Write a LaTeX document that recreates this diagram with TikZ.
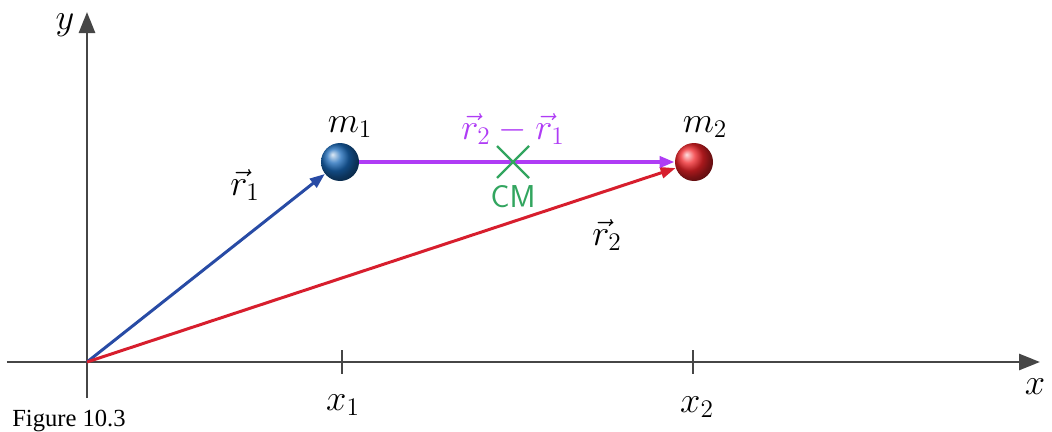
\documentclass[tikz,border=0pt]{standalone}
\usepackage{fontspec}
\usepackage{tikz}
\usetikzlibrary{arrows.meta,positioning}
\newfontfamily\captionfont{Liberation Serif}
\definecolor{axisgray}{RGB}{70,70,70}
\definecolor{vecblue}{RGB}{40,75,165}
\definecolor{vecred}{RGB}{215,30,45}
\definecolor{vecpurple}{RGB}{175,60,245}
\definecolor{cmgreen}{RGB}{50,165,95}
\definecolor{ballblue}{RGB}{25,105,185}
\definecolor{ballred}{RGB}{240,35,40}

\begin{document}
\begin{tikzpicture}[
    every node/.style={font=\fontsize{20}{22}\selectfont},
    axis/.style={draw=axisgray, line width=1.6pt, -{Triangle[length=0.42cm,width=0.32cm]}},
    tick/.style={draw=axisgray, line width=1.4pt},
    vec/.style={line width=1.7pt, -{Triangle[length=0.3cm,width=0.22cm]}},
    mass/.style={circle, inner sep=0pt, minimum size=0.76cm}
    ]
    \useasboundingbox (-1.74,-1.38) rectangle (19.30,7.24);

    % axes
    \coordinate (O) at (0,0);
    \coordinate (xstart) at (-1.6,0);
    \coordinate (xend) at (19.06,0);
    \coordinate (ystart) at (0,-0.72);
    \coordinate (yend) at (0,7.0);
    \draw[axis] (xstart) -- (xend);
    \draw[axis] (ystart) -- (yend);
    \node (xlab) at (18.96,-0.5) {$x$};
    \node (ylab) at (-0.44,6.74) {$y$};

    % ticks
    \coordinate (xonetop) at (5.1,0.24);
    \coordinate (xonebot) at (5.1,-0.24);
    \coordinate (xtwotop) at (12.12,0.24);
    \coordinate (xtwobot) at (12.12,-0.24);
    \draw[tick] (xonetop) -- (xonebot);
    \draw[tick] (xtwotop) -- (xtwobot);
    \node (xonelab) at (5.12,-0.86) {$x_1$};
    \node (xtwolab) at (12.2,-0.9) {$x_2$};

    % masses
    \node[mass, ball color=ballblue] (m1) at (5.06,4.0) {};
    \node[mass, ball color=ballred] (m2) at (12.14,4.0) {};
    \node (m1lab) at (5.26,4.7) {$m_1$};
    \node (m2lab) at (12.36,4.7) {$m_2$};

    % vectors
    \draw[vec, vecblue] (O) -- (m1);
    \draw[vec, vecred] (O) -- (m2);
    \draw[vec, vecpurple, line width=2.2pt] (m1) -- (m2);
    \node (r1lab) at (3.16,3.54) {$\vec{r}_1$};
    \node (r2lab) at (10.4,2.54) {$\vec{r}_2$};
    \node[text=vecpurple] (difflab) at (8.52,4.66) {$\vec{r}_2-\vec{r}_1$};

    % centre of mass
    \coordinate (cm) at (8.52,4.0);
    \coordinate (cmnw) at (8.2,4.32);
    \coordinate (cmse) at (8.84,3.68);
    \coordinate (cmne) at (8.84,4.32);
    \coordinate (cmsw) at (8.2,3.68);
    \draw[cmgreen, line width=1.3pt] (cmnw) -- (cmse);
    \draw[cmgreen, line width=1.3pt] (cmne) -- (cmsw);
    \node[text=cmgreen, font=\fontsize{18}{20}\sffamily] (cmlab) at (8.52,3.3) {CM};

    \node[font=\fontsize{14}{16}\captionfont] (fig) at (-0.36,-1.18) {Figure 10.3};
  \end{tikzpicture}
\end{document}
